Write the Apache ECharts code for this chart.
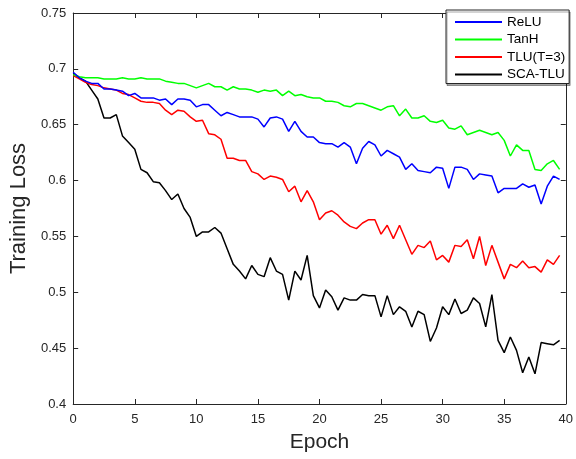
<!DOCTYPE html>
<html>
<head>
<meta charset="utf-8">
<script src="https://cdn.jsdelivr.net/npm/echarts@6/dist/echarts.min.js"></script>
<style>html,body{margin:0;padding:0;background:#fff;}#c{width:576px;height:459px;}</style>
</head>
<body>
<div id="c"></div>
<script>
var epochs = [0,0.5,1,1.5,2,2.5,3,3.5,4,4.5,5,5.5,6,6.5,7,7.5,8,8.5,9,9.5,
  10,10.5,11,11.5,12,12.5,13,13.5,14,14.5,15,15.5,16,16.5,17,17.5,18,18.5,19,19.5,
  20,20.5,21,21.5,22,22.5,23,23.5,24,24.5,25,25.5,26,26.5,27,27.5,28,28.5,29,29.5,
  30,30.5,31,31.5,32,32.5,33,33.5,34,34.5,35,35.5,36,36.5,37,37.5,38,38.5,39,39.5];

var relu = [0.697,0.692,0.689,0.687,0.687,0.682,0.682,0.681,0.680,0.676,
  0.678,0.674,0.674,0.674,0.672,0.673,0.668,0.673,0.673,0.672,
  0.666,0.668,0.668,0.663,0.658,0.661,0.659,0.657,0.657,0.657,
  0.655,0.648,0.656,0.657,0.655,0.644,0.653,0.644,0.639,0.639,
  0.634,0.633,0.633,0.630,0.634,0.630,0.615,0.629,0.635,0.632,
  0.622,0.627,0.624,0.621,0.610,0.615,0.609,0.608,0.607,0.612,
  0.611,0.593,0.612,0.612,0.610,0.601,0.606,0.605,0.604,0.589,
  0.593,0.593,0.593,0.597,0.594,0.596,0.579,0.595,0.604,0.601];

var tanh = [0.695,0.693,0.692,0.692,0.692,0.691,0.691,0.691,0.692,0.691,
  0.691,0.692,0.691,0.691,0.691,0.689,0.688,0.687,0.687,0.685,
  0.683,0.685,0.687,0.684,0.684,0.681,0.684,0.682,0.682,0.681,
  0.679,0.681,0.680,0.681,0.676,0.680,0.676,0.677,0.675,0.674,
  0.674,0.671,0.671,0.670,0.667,0.666,0.669,0.669,0.667,0.665,
  0.663,0.666,0.667,0.658,0.664,0.656,0.656,0.658,0.653,0.652,
  0.654,0.647,0.646,0.649,0.641,0.643,0.645,0.643,0.641,0.643,
  0.636,0.622,0.632,0.627,0.627,0.610,0.609,0.615,0.618,0.610];

var tlu = [0.694,0.691,0.688,0.686,0.685,0.683,0.682,0.681,0.678,0.677,
  0.674,0.671,0.670,0.670,0.669,0.663,0.659,0.663,0.662,0.657,
  0.653,0.654,0.642,0.641,0.637,0.620,0.620,0.618,0.618,0.608,
  0.606,0.601,0.604,0.603,0.601,0.590,0.595,0.581,0.591,0.581,
  0.565,0.571,0.573,0.569,0.563,0.559,0.557,0.562,0.565,0.565,
  0.552,0.560,0.548,0.560,0.547,0.534,0.542,0.540,0.546,0.529,
  0.533,0.527,0.542,0.541,0.547,0.530,0.550,0.524,0.542,0.527,
  0.512,0.525,0.522,0.528,0.522,0.523,0.518,0.529,0.525,0.533];

var scatlu = [0.696,0.692,0.689,0.681,0.673,0.656,0.656,0.659,0.640,0.634,
  0.628,0.610,0.607,0.599,0.598,0.591,0.583,0.588,0.575,0.567,
  0.550,0.554,0.554,0.558,0.553,0.539,0.525,0.519,0.512,0.524,
  0.516,0.514,0.531,0.519,0.516,0.493,0.519,0.511,0.533,0.497,
  0.486,0.502,0.496,0.484,0.495,0.493,0.493,0.498,0.497,0.497,
  0.478,0.497,0.480,0.487,0.483,0.469,0.483,0.480,0.456,0.468,
  0.487,0.480,0.494,0.481,0.484,0.495,0.490,0.469,0.498,0.457,
  0.446,0.460,0.448,0.428,0.442,0.427,0.455,0.454,0.453,0.457];

var seriesNames = ['ReLU','TanH','TLU(T=3)','SCA-TLU'];
var seriesColors = ['#0000ff','#00ff00','#ff0000','#000000'];
var seriesData = [relu, tanh, tlu, scatlu];

function pairs(arr){ return arr.map(function(v,i){ return [epochs[i], v]; }); }

var FONT = '"Liberation Sans", Arial, Helvetica, sans-serif';
var AX = '#262626';

var chart = echarts.init(document.getElementById('c'), null, {renderer:'canvas'});

var baseX = {
  type:'value', min:0, max:40, interval:5,
  axisLine:{show:true, onZero:false, lineStyle:{color:AX, width:1}},
  axisTick:{show:true, inside:true, length:5, lineStyle:{color:AX, width:1}},
  splitLine:{show:false}
};
var baseY = {
  type:'value', min:0.4, max:0.75, interval:0.05,
  axisLine:{show:true, onZero:false, lineStyle:{color:AX, width:1}},
  axisTick:{show:true, inside:true, length:5, lineStyle:{color:AX, width:1}},
  splitLine:{show:false}
};

var option = {
  animation:false,
  backgroundColor:'#ffffff',
  grid:{left:72, right:6, top:13, bottom:55, containLabel:false},
  xAxis:[
    Object.assign({}, baseX, {
      position:'bottom',
      name:'Epoch', nameLocation:'middle', nameGap:28,
      nameTextStyle:{fontFamily:FONT, fontSize:21, color:AX},
      axisLabel:{show:true, margin:9, fontFamily:FONT, fontSize:13, color:AX}
    }),
    Object.assign({}, baseX, {position:'top', axisLabel:{show:false}})
  ],
  yAxis:[
    Object.assign({}, baseY, {
      position:'left',
      name:'Training Loss', nameLocation:'middle', nameGap:38,
      nameTextStyle:{fontFamily:FONT, fontSize:22, color:AX},
      axisLabel:{show:true, margin:7, fontFamily:FONT, fontSize:13, color:AX,
        formatter:function(v){ return String(parseFloat(v.toFixed(2))); }}
    }),
    Object.assign({}, baseY, {position:'right', axisLabel:{show:false}})
  ],
  legend:{
    orient:'vertical', left:446, top:10,
    data:seriesNames,
    icon:'rect',
    itemWidth:47, itemHeight:2, itemGap:3.5,
    padding:[5,4,2,9],
    backgroundColor:'#ffffff', borderColor:AX, borderWidth:1,
    shadowColor:'rgba(0,0,0,0.35)', shadowBlur:0, shadowOffsetX:1, shadowOffsetY:2,
    textStyle:{fontFamily:FONT, fontSize:13.5, color:'#000', lineHeight:14}
  },
  series: seriesNames.map(function(n, i){
    return {
      name:n, type:'line', data:pairs(seriesData[i]),
      xAxisIndex:0, yAxisIndex:0,
      symbol:'none', showSymbol:false,
      lineStyle:{color:seriesColors[i], width:1.5},
      itemStyle:{color:seriesColors[i]},
      z: 10 - i
    };
  })
};
chart.setOption(option);
</script>
</body>
</html>
